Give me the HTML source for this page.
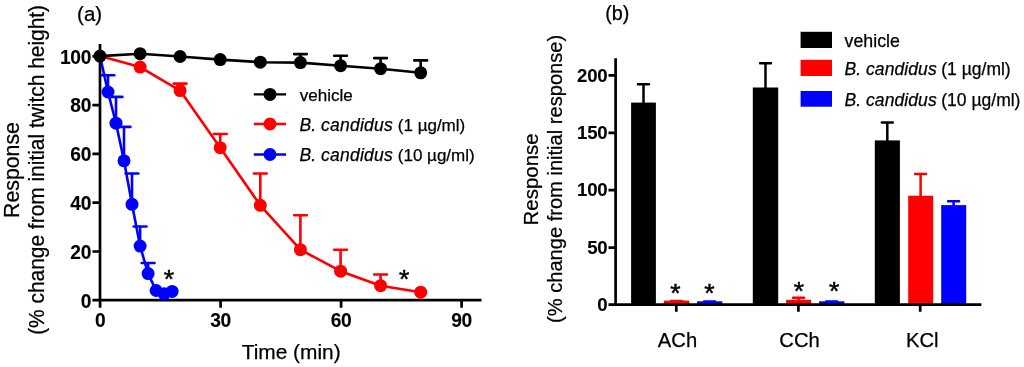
<!DOCTYPE html>
<html><head><meta charset="utf-8"><title>Figure</title>
<style>html,body{margin:0;padding:0;background:#fff}svg{display:block}text{font-family:"Liberation Sans", sans-serif;fill:#000;stroke:#000;stroke-width:0.25px}.t{stroke-width:0.12px;letter-spacing:-0.25px}.t{font-weight:bold;font-size:19.9px}.ax{font-size:21px}.lg{font-size:17px}.li{font-size:17.5px;font-style:italic}.st{font-size:26.5px;stroke-width:0.5px}.ab{font-size:20.1px}.xb{font-size:20.2px}.pl{font-size:20.5px}.tb{font-weight:bold;font-size:18.6px;stroke-width:0.1px;letter-spacing:-0.25px}.lb{font-size:17.5px}</style></head><body>
<svg width="1024" height="367" viewBox="0 0 1024 367">
<rect width="1024" height="367" fill="#fff"/>
<g id="chart-a">
<path d="M100 44V301.5M92.4 300.2H481.5" stroke="#000" stroke-width="2.7" fill="none"/>
<path d="M92.4 251.5H100M92.4 202.7H100M92.4 153.9H100M92.4 105.1H100M92.4 56.3H100M100.1 300V307.7M220.6 300V307.7M341.1 300V307.7M461.6 300V307.7" stroke="#000" stroke-width="2.7" fill="none"/>
<text class="t" transform="translate(91.2 307.6) scale(0.965 1)" text-anchor="end">0</text>
<text class="t" transform="translate(91.2 258.8) scale(0.965 1)" text-anchor="end">20</text>
<text class="t" transform="translate(91.2 210.0) scale(0.965 1)" text-anchor="end">40</text>
<text class="t" transform="translate(91.2 161.2) scale(0.965 1)" text-anchor="end">60</text>
<text class="t" transform="translate(91.2 112.4) scale(0.965 1)" text-anchor="end">80</text>
<text class="t" transform="translate(91.2 63.6) scale(0.965 1)" text-anchor="end">100</text>
<text class="t" transform="translate(100.1 327.2) scale(0.965 1)" text-anchor="middle">0</text>
<text class="t" transform="translate(220.6 327.2) scale(0.965 1)" text-anchor="middle">30</text>
<text class="t" transform="translate(341.1 327.2) scale(0.965 1)" text-anchor="middle">60</text>
<text class="t" transform="translate(461.6 327.2) scale(0.965 1)" text-anchor="middle">90</text>
<path d="M108.0 92.0V75.3M101.6 75.3H114.4" stroke="#0000ff" stroke-width="2.6" fill="none" stroke-linecap="round"/>
<path d="M116.0 123.2V96.9M109.6 96.9H122.4" stroke="#0000ff" stroke-width="2.6" fill="none" stroke-linecap="round"/>
<path d="M124.0 160.8V126.9M117.6 126.9H130.4" stroke="#0000ff" stroke-width="2.6" fill="none" stroke-linecap="round"/>
<path d="M132.0 204.3V173.5M125.6 173.5H138.4" stroke="#0000ff" stroke-width="2.6" fill="none" stroke-linecap="round"/>
<path d="M140.1 246.1V226.5M133.7 226.5H146.5" stroke="#0000ff" stroke-width="2.6" fill="none" stroke-linecap="round"/>
<path d="M148.1 273.6V263.0M141.7 263.0H154.5" stroke="#0000ff" stroke-width="2.6" fill="none" stroke-linecap="round"/>
<polyline points="100.0,56.1 108.0,92.0 116.0,123.2 124.0,160.8 132.0,204.3 140.1,246.1 148.1,273.6 156.1,290.5 164.1,293.8 172.1,291.4" fill="none" stroke="#0000ff" stroke-width="2.6" stroke-linejoin="round"/>
<circle cx="108.0" cy="92.0" r="6.5" fill="#0000ff"/>
<circle cx="116.0" cy="123.2" r="6.5" fill="#0000ff"/>
<circle cx="124.0" cy="160.8" r="6.5" fill="#0000ff"/>
<circle cx="132.0" cy="204.3" r="6.5" fill="#0000ff"/>
<circle cx="140.1" cy="246.1" r="6.5" fill="#0000ff"/>
<circle cx="148.1" cy="273.6" r="6.5" fill="#0000ff"/>
<circle cx="156.1" cy="290.5" r="6.5" fill="#0000ff"/>
<circle cx="164.1" cy="293.8" r="6.5" fill="#0000ff"/>
<circle cx="172.1" cy="291.4" r="6.5" fill="#0000ff"/>
<path d="M180.1 90.6V83.6M173.7 83.6H186.5" stroke="#ff0000" stroke-width="2.6" fill="none" stroke-linecap="round"/>
<path d="M220.2 147.7V134.0M213.8 134.0H226.7" stroke="#ff0000" stroke-width="2.6" fill="none" stroke-linecap="round"/>
<path d="M260.3 205.3V173.5M253.9 173.5H266.7" stroke="#ff0000" stroke-width="2.6" fill="none" stroke-linecap="round"/>
<path d="M300.4 249.7V215.3M294.1 215.3H306.8" stroke="#ff0000" stroke-width="2.6" fill="none" stroke-linecap="round"/>
<path d="M340.6 271.2V249.7M334.2 249.7H346.9" stroke="#ff0000" stroke-width="2.6" fill="none" stroke-linecap="round"/>
<path d="M380.6 285.7V274.5M374.2 274.5H387.0" stroke="#ff0000" stroke-width="2.6" fill="none" stroke-linecap="round"/>
<polyline points="100.0,56.1 140.1,67.1 180.1,90.6 220.2,147.7 260.3,205.3 300.4,249.7 340.6,271.2 380.6,285.7 420.7,292.2" fill="none" stroke="#ff0000" stroke-width="2.6" stroke-linejoin="round"/>
<circle cx="140.1" cy="67.1" r="6.5" fill="#ff0000"/>
<circle cx="180.1" cy="90.6" r="6.5" fill="#ff0000"/>
<circle cx="220.2" cy="147.7" r="6.5" fill="#ff0000"/>
<circle cx="260.3" cy="205.3" r="6.5" fill="#ff0000"/>
<circle cx="300.4" cy="249.7" r="6.5" fill="#ff0000"/>
<circle cx="340.6" cy="271.2" r="6.5" fill="#ff0000"/>
<circle cx="380.6" cy="285.7" r="6.5" fill="#ff0000"/>
<circle cx="420.7" cy="292.2" r="6.5" fill="#ff0000"/>
<path d="M300.4 62.6V54.1M294.1 54.1H306.8" stroke="#000000" stroke-width="2.6" fill="none" stroke-linecap="round"/>
<path d="M340.6 65.7V55.7M334.2 55.7H346.9" stroke="#000000" stroke-width="2.6" fill="none" stroke-linecap="round"/>
<path d="M380.6 68.7V58.1M374.2 58.1H387.0" stroke="#000000" stroke-width="2.6" fill="none" stroke-linecap="round"/>
<path d="M420.7 72.8V60.4M414.3 60.4H427.1" stroke="#000000" stroke-width="2.6" fill="none" stroke-linecap="round"/>
<polyline points="100.0,56.1 140.1,53.7 180.1,56.5 220.2,59.6 260.3,62.2 300.4,62.6 340.6,65.7 380.6,68.7 420.7,72.8" fill="none" stroke="#000000" stroke-width="2.6" stroke-linejoin="round"/>
<circle cx="100.0" cy="56.1" r="6.5" fill="#000000"/>
<circle cx="140.1" cy="53.7" r="6.5" fill="#000000"/>
<circle cx="180.1" cy="56.5" r="6.5" fill="#000000"/>
<circle cx="220.2" cy="59.6" r="6.5" fill="#000000"/>
<circle cx="260.3" cy="62.2" r="6.5" fill="#000000"/>
<circle cx="300.4" cy="62.6" r="6.5" fill="#000000"/>
<circle cx="340.6" cy="65.7" r="6.5" fill="#000000"/>
<circle cx="380.6" cy="68.7" r="6.5" fill="#000000"/>
<circle cx="420.7" cy="72.8" r="6.5" fill="#000000"/>
<text class="st" x="168.9" y="288.1" text-anchor="middle">*</text>
<text class="st" x="404.2" y="287.9" text-anchor="middle">*</text>
<text class="ax" x="291.2" y="358.8" text-anchor="middle" style="font-size:20.9px">Time (min)</text>
<text class="ax" transform="translate(18.9 170) rotate(-90) scale(0.977 1)" text-anchor="middle" style="font-size:21.8px">Response</text>
<text class="ax" transform="translate(43.5 169.9) rotate(-90) scale(0.9863 1)" text-anchor="middle" style="font-size:21.2px">(% change from initial twitch height)</text>
<text class="pl" x="77.1" y="21.4">(a)</text>
<path d="M253.8 94.4H286.1" stroke="#000" stroke-width="2.4"/><circle cx="270" cy="94.4" r="6.5" fill="#000"/>
<path d="M253.8 124.0H286.1" stroke="#f00" stroke-width="2.4"/><circle cx="270" cy="124.0" r="6.5" fill="#f00"/>
<path d="M253.8 154.5H286.1" stroke="#00f" stroke-width="2.4"/><circle cx="270" cy="154.5" r="6.5" fill="#00f"/>
<text class="lg" x="299.8" y="100.5">vehicle</text>
<text class="li" x="299.6" y="130.6">B. <tspan letter-spacing="0.24">candidus</tspan></text><text class="lg" x="397.8" y="130.6">(1 µg/ml)</text>
<text class="li" x="299.6" y="160.8">B. <tspan letter-spacing="0.24">candidus</tspan></text><text class="lg" x="397.8" y="160.8">(10 µg/ml)</text>
</g>
<g id="chart-b">
<path d="M643.5 103.6V84.3M638.0 84.3H649.0" stroke="#000" stroke-width="2.5" fill="none" stroke-linecap="round"/>
<rect x="631.1" y="102.6" width="24.8" height="202.0" fill="#000"/>
<path d="M676.5 301.6V301.1M671.0 301.1H682.0" stroke="#f00" stroke-width="2.5" fill="none" stroke-linecap="round"/>
<rect x="663.9" y="300.6" width="25.4" height="4.0" fill="#f00"/>
<path d="M709.6 302.3V301.5M704.1 301.5H715.1" stroke="#00f" stroke-width="2.5" fill="none" stroke-linecap="round"/>
<rect x="697.0" y="301.3" width="25.3" height="3.3" fill="#00f"/>
<path d="M765.5 88.5V63.2M760.0 63.2H771.0" stroke="#000" stroke-width="2.5" fill="none" stroke-linecap="round"/>
<rect x="752.8" y="87.5" width="25.4" height="217.1" fill="#000"/>
<path d="M798.6 300.8V297.7M793.1 297.7H804.1" stroke="#f00" stroke-width="2.5" fill="none" stroke-linecap="round"/>
<rect x="786.1" y="299.8" width="25.1" height="4.8" fill="#f00"/>
<path d="M831.7 302.3V301.6M826.2 301.6H837.2" stroke="#00f" stroke-width="2.5" fill="none" stroke-linecap="round"/>
<rect x="819.1" y="301.3" width="25.3" height="3.3" fill="#00f"/>
<path d="M887.3 141.4V122.4M881.8 122.4H892.8" stroke="#000" stroke-width="2.5" fill="none" stroke-linecap="round"/>
<rect x="874.8" y="140.4" width="25.1" height="164.2" fill="#000"/>
<path d="M920.6 196.7V174.0M915.1 174.0H926.1" stroke="#f00" stroke-width="2.5" fill="none" stroke-linecap="round"/>
<rect x="908.2" y="195.7" width="25.0" height="108.9" fill="#f00"/>
<path d="M953.6 206.1V201.2M948.1 201.2H959.1" stroke="#00f" stroke-width="2.5" fill="none" stroke-linecap="round"/>
<rect x="941.2" y="205.1" width="25.0" height="99.5" fill="#00f"/>
<path d="M615.6 58.2V305.9M608.5 304.6H981.4" stroke="#000" stroke-width="2.7" fill="none"/>
<path d="M608.5 247.6H615.6M608.5 190.2H615.6M608.5 132.8H615.6M608.5 75.4H615.6M676.3 304.6V311.7M798.4 304.6V311.7M920.2 304.6V311.7" stroke="#000" stroke-width="2.7" fill="none"/>
<text class="tb" x="607.4" y="310.8" text-anchor="end">0</text>
<text class="tb" x="607.4" y="254.0" text-anchor="end">50</text>
<text class="tb" x="607.4" y="196.0" text-anchor="end">100</text>
<text class="tb" x="607.4" y="139.1" text-anchor="end">150</text>
<text class="tb" x="607.4" y="82.4" text-anchor="end">200</text>
<text class="xb" x="677.5" y="346.8" text-anchor="middle">ACh</text>
<text class="xb" x="799.5" y="346.8" text-anchor="middle">CCh</text>
<text class="xb" x="922.3" y="346.8" text-anchor="middle">KCl</text>
<text class="st" x="675.5" y="301.6" text-anchor="middle">*</text>
<text class="st" x="709.4" y="301.6" text-anchor="middle">*</text>
<text class="st" x="799.0" y="299.9" text-anchor="middle">*</text>
<text class="st" x="834.2" y="299.9" text-anchor="middle">*</text>
<text class="ab" transform="translate(538.4 179.4) rotate(-90) scale(0.976 1)" text-anchor="middle" style="font-size:20.95px">Response</text>
<text class="ab" transform="translate(562.4 178.9) rotate(-90)" text-anchor="middle">(% change from initial response)</text>
<text class="pl" x="605.2" y="19.6" style="font-size:19.8px">(b)</text>
<rect x="800.6" y="31.8" width="31.4" height="16.2" fill="#000"/>
<rect x="800.6" y="59.8" width="31.4" height="16.2" fill="#f00"/>
<rect x="800.6" y="91.0" width="31.4" height="15.7" fill="#00f"/>
<text class="lb" x="844.6" y="46.7" style="font-size:17.8px">vehicle</text>
<text class="li" x="844.4" y="74.8" letter-spacing="0.08">B. candidus</text><text class="lb" x="941.3" y="74.8">(1 µg/ml)</text>
<text class="li" x="844.4" y="105.9" letter-spacing="0.08">B. candidus</text><text class="lb" x="941.3" y="105.9">(10 µg/ml)</text>
</g>
</svg></body></html>
